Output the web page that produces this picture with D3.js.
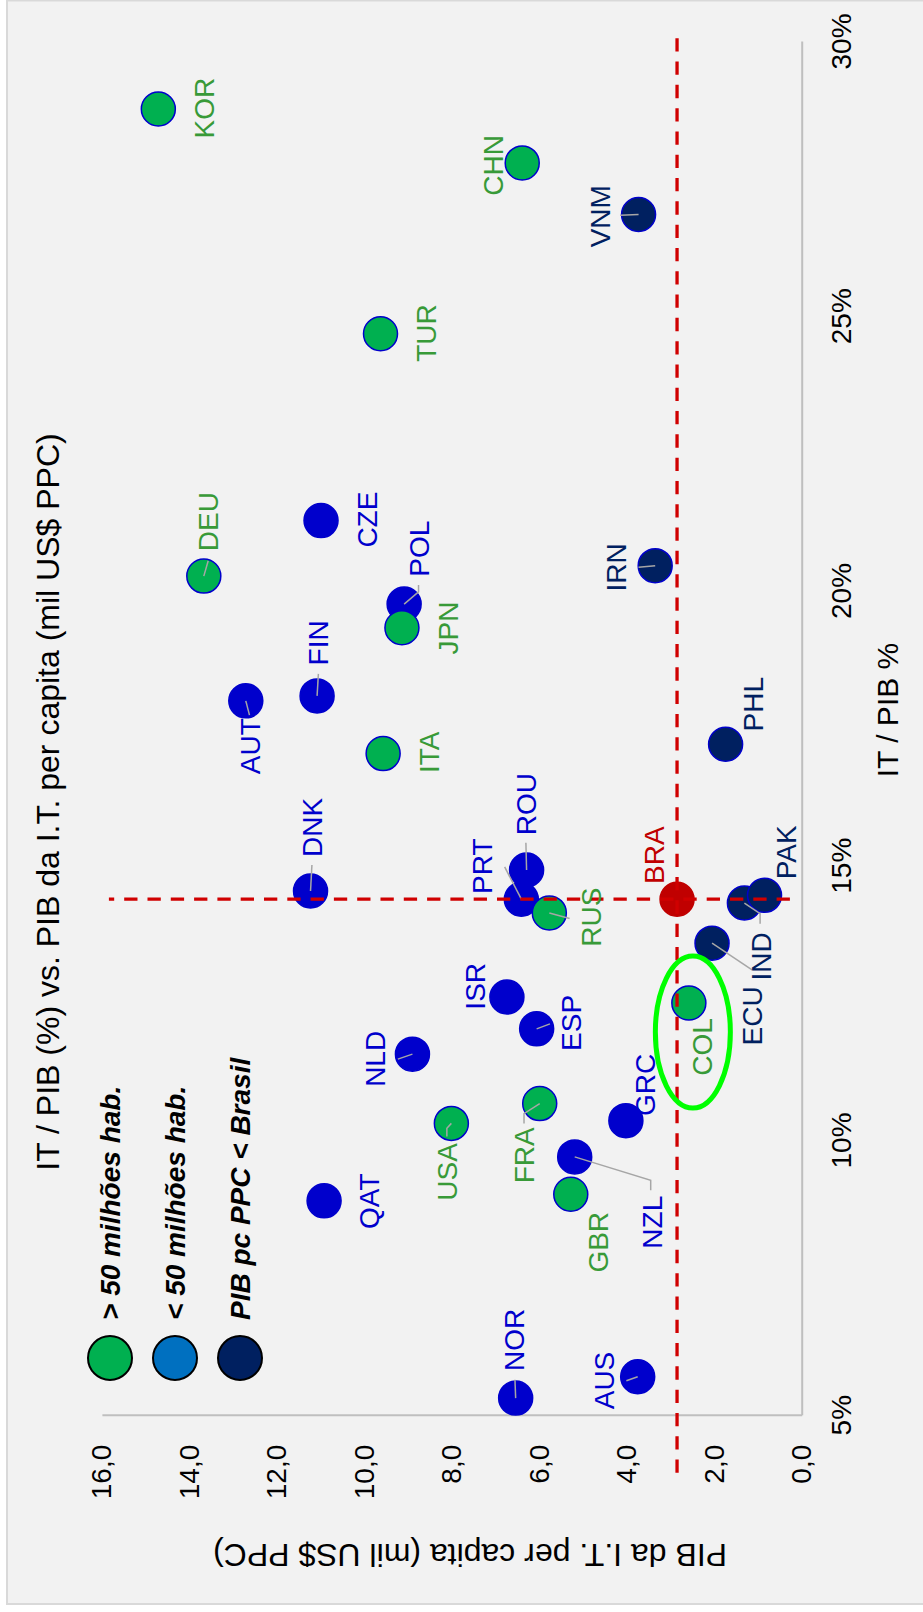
<!DOCTYPE html>
<html>
<head>
<meta charset="utf-8">
<script src="https://cdn.jsdelivr.net/npm/d3@7"></script>
<style>
  html, body { margin: 0; padding: 0; background: #fff; }
  svg { display: block; font-family: "Liberation Sans", Arial, sans-serif; }
</style>
</head>
<body>
<div id="chart"></div>
<script>
// country codes, IT / PIB (%), PIB da I.T. per capita (mil US$ PPC), group
const codes = ["KOR","CHN","VNM","TUR","CZE","DEU","IRN","POL","JPN","FIN","AUT","PHL","ITA","ROU","DNK","PRT","BRA","PAK","IND","RUS","ECU","ISR","COL","ESP","NLD","FRA","GRC","USA","NZL","GBR","QAT","AUS","NOR"];
const itShare = [28.78,27.80,26.86,24.69,21.29,20.28,20.47,19.77,19.34,18.10,18.01,17.22,17.05,14.93,14.55,14.40,14.40,14.47,14.33,14.15,13.60,12.62,12.51,12.04,11.58,10.68,10.37,10.32,9.71,9.03,8.91,5.71,5.32];
const itGdpPc = [14.71,6.39,3.73,9.63,10.99,13.67,3.35,9.09,9.14,11.08,12.71,1.74,9.57,6.29,11.23,6.41,2.85,0.85,1.31,5.77,2.05,6.74,2.58,6.06,8.90,5.99,4.02,8.01,5.19,5.28,10.92,3.75,6.54];
const groups = ["big","big","poor","big","small","big","poor","small","big","small","small","poor","big","small","small","small","bra","poor","poor","big","poor","small","big","small","small","big","small","big","small","big","small","small","small"];

const xTicks = [5, 10, 15, 20, 25, 30];
const yTicks = [0, 2, 4, 6, 8, 10, 12, 14, 16];

const legendLabels = ["> 50 milhões hab.", "< 50 milhões hab.", "PIB pc PPC < Brasil"];
const legendColours = ["#00b050", "#0070c0", "#002060"];

// extents of the Brazil reference lines
const hRefRange = [3.96, 30.12];
const vRefRange = [0.27, 15.84];

const W = 923;
const H = 1612;

// colours per group
const fillOf = { big: "#00b050", small: "#0000cc", poor: "#002060", bra: "#c00000" };
const strokeOf = { big: "#0000cc", small: "#0000cc", poor: "#0000cc", bra: "#c00000" };
const textOf = { big: "#389a38", small: "#0000cc", poor: "#002060", bra: "#c00000" };
const rank = { small: 0, poor: 1, big: 2, bra: 3 };

// label placement (offsets from the marker, chart frame)
const labelPos = {
  KOR: [1, 46], CHN: [-2.5, -29], VNM: [-1.7, -38.3], TUR: [0.7, 45.7], CZE: [1, 46],
  DEU: [54.5, 4.2], IRN: [-1.8, -39], POL: [55.5, 14.7], JPN: [-0.2, 45.8], FIN: [53, 1.5],
  AUT: [-45.3, 4.7], PHL: [40, 27.7], ITA: [1.3, 46], ROU: [66, 0], DNK: [63.5, 1.7],
  PRT: [33, -38.7], BRA: [44, -22.7], PAK: [43, 21.7], IND: [-53.3, 16.7], RUS: [-4.3, 42.3],
  ECU: [-72.7, 40.3], ISR: [10.7, -32], COL: [-44, 13.5], ESP: [6, 35], NLD: [-4.7, -37.3],
  FRA: [-51.7, -16], GRC: [35.7, 19.7], USA: [-48.5, -4.5], NZL: [-65.3, 77], GBR: [-48, 27],
  QAT: [-0.3, 45.3], AUS: [-3.8, -33.8], NOR: [58.3, -1]
};

const leaders = {
  ROU: [[27.3, -0.7]], PRT: [[32.3, -16.7]], RUS: [[-5.6, 20.3]],
  IND: [[-10.6, 15.7], [-20.6, 15.7]], ECU: [[-26.7, 40]], ESP: [[5, 13.3]],
  NLD: [[-5, -14.6]], USA: [[-4.8, -4.5], [-13.2, -4.5]], FRA: [[-10, -15.7], [-20, -15.7]],
  NZL: [[-23.3, 76], [-33.3, 76]], DEU: [[15.3, 4.4]], VNM: [[-0.7, -18.3]],
  IRN: [[-1.6, -16.7]], POL: [[12.3, 14.4], [19, 14.4]], FIN: [[22, 1.3]],
  AUT: [[-14.3, 3.7]], DNK: [[26, 1.4]], NOR: [[18.3, -0.7]], AUS: [[-4, -11.3]]
};

const highlight = { code: "COL", dx: -29, dy: 4, rx: 76, ry: 37.5 };

const dataset = codes.map((c, i) => ({
  code: c, x: itShare[i], y: itGdpPc[i], group: groups[i]
}));

const svg = d3.select("#chart").append("svg").attr("width", W).attr("height", H);

// outer frame
svg.append("rect")
  .attr("x", 7).attr("y", 0.5)
  .attr("width", W + 10).attr("height", 1603.5)
  .attr("fill", "#f2f2f2")
  .attr("stroke", "#d9d9d9")
  .attr("stroke-width", 2);

// the whole chart is turned a quarter to the left
const g = svg.append("g").attr("transform", `translate(0,${H}) rotate(-90)`);

const xScale = d3.scaleLinear().domain([5, 30]).range([196.3, 1570]);
const yScale = d3.scaleLinear().domain([0, 16]).range([801.7, 101.9]);

const fmtY = (v) => d3.format(".1f")(v).replace(".", ",");

const xAxis = g.append("g")
  .attr("transform", `translate(0,${yScale(0)})`)
  .call(d3.axisBottom(xScale).tickValues(xTicks).tickSize(0).tickPadding(29).tickFormat((d) => d + "%"));

const yAxis = g.append("g")
  .attr("transform", `translate(${xScale(5)},0)`)
  .call(d3.axisLeft(yScale).tickValues(yTicks).tickSize(0).tickPadding(29).tickFormat(fmtY));

[xAxis, yAxis].forEach((a) => {
  a.attr("font-family", null).attr("font-size", 28);
  a.select(".domain").attr("stroke", "#bfbfbf").attr("stroke-width", 2);
  a.selectAll("text").attr("fill", "#000");
});

// markers
const ordered = dataset.slice().sort((a, b) => rank[a.group] - rank[b.group] || b.y - a.y);

g.selectAll("circle.pt")
  .data(ordered)
  .enter()
  .append("circle")
  .attr("class", "pt")
  .attr("cx", (d) => xScale(d.x))
  .attr("cy", (d) => yScale(d.y))
  .attr("r", 17)
  .attr("fill", (d) => fillOf[d.group])
  .attr("stroke", (d) => strokeOf[d.group])
  .attr("stroke-width", 1.5);

// leader lines
const line = d3.line();
g.selectAll("path.leader")
  .data(dataset.filter((d) => leaders[d.code]))
  .enter()
  .append("path")
  .attr("class", "leader")
  .attr("d", (d) => {
    const cx = xScale(d.x), cy = yScale(d.y);
    return line([[cx, cy]].concat(leaders[d.code].map((p) => [cx + p[0], cy + p[1]])));
  })
  .attr("fill", "none")
  .attr("stroke", "#a6a6a6")
  .attr("stroke-width", 1.5);

// Brazil reference lines
const bra = dataset.find((d) => d.code === "BRA");
g.append("line")
  .attr("x1", xScale(hRefRange[0])).attr("x2", xScale(hRefRange[1]))
  .attr("y1", yScale(bra.y)).attr("y2", yScale(bra.y))
  .attr("stroke", "#d00000").attr("stroke-width", 3.3)
  .attr("stroke-dasharray", "13.3,10");
g.append("line")
  .attr("x1", xScale(bra.x)).attr("x2", xScale(bra.x))
  .attr("y1", yScale(vRefRange[0])).attr("y2", yScale(vRefRange[1]))
  .attr("stroke", "#d00000").attr("stroke-width", 3.3)
  .attr("stroke-dasharray", "13.3,10");

// data labels
g.selectAll("text.lbl")
  .data(dataset)
  .enter()
  .append("text")
  .attr("class", "lbl")
  .attr("x", (d) => xScale(d.x) + labelPos[d.code][0])
  .attr("y", (d) => yScale(d.y) + labelPos[d.code][1])
  .attr("dy", "0.35em")
  .attr("text-anchor", "middle")
  .attr("font-size", 28)
  .attr("fill", (d) => textOf[d.group])
  .text((d) => d.code);

// highlight around COL
const hl = dataset.find((d) => d.code === highlight.code);
g.append("ellipse")
  .attr("cx", xScale(hl.x) + highlight.dx)
  .attr("cy", yScale(hl.y) + highlight.dy)
  .attr("rx", highlight.rx)
  .attr("ry", highlight.ry)
  .attr("fill", "none")
  .attr("stroke", "#00ff00")
  .attr("stroke-width", 5);

// legend
const legend = g.selectAll("g.legend")
  .data(legendLabels)
  .enter()
  .append("g")
  .attr("class", "legend")
  .attr("transform", (d, i) => `translate(254,${110 + i * 65})`);

legend.append("circle")
  .attr("r", 22)
  .attr("fill", (d, i) => legendColours[i])
  .attr("stroke", "#000")
  .attr("stroke-width", 2);

legend.append("text")
  .attr("x", 38)
  .attr("dy", "0.35em")
  .attr("font-size", 28)
  .attr("font-weight", "bold")
  .attr("font-style", "italic")
  .text((d) => d);

// titles
g.append("text")
  .attr("x", 810).attr("y", 59)
  .attr("text-anchor", "middle")
  .attr("font-size", 32)
  .text("IT / PIB (%) vs. PIB da I.T. per capita (mil US$ PPC)");

g.append("text")
  .attr("x", 902).attr("y", 898)
  .attr("text-anchor", "middle")
  .attr("font-size", 30)
  .text("IT / PIB %");

g.append("text")
  .attr("transform", "translate(57,470) rotate(-90)")
  .attr("dy", "0.35em")
  .attr("text-anchor", "middle")
  .attr("font-size", 32)
  .text("PIB da I.T. per capita (mil US$ PPC)");
</script>
</body>
</html>
